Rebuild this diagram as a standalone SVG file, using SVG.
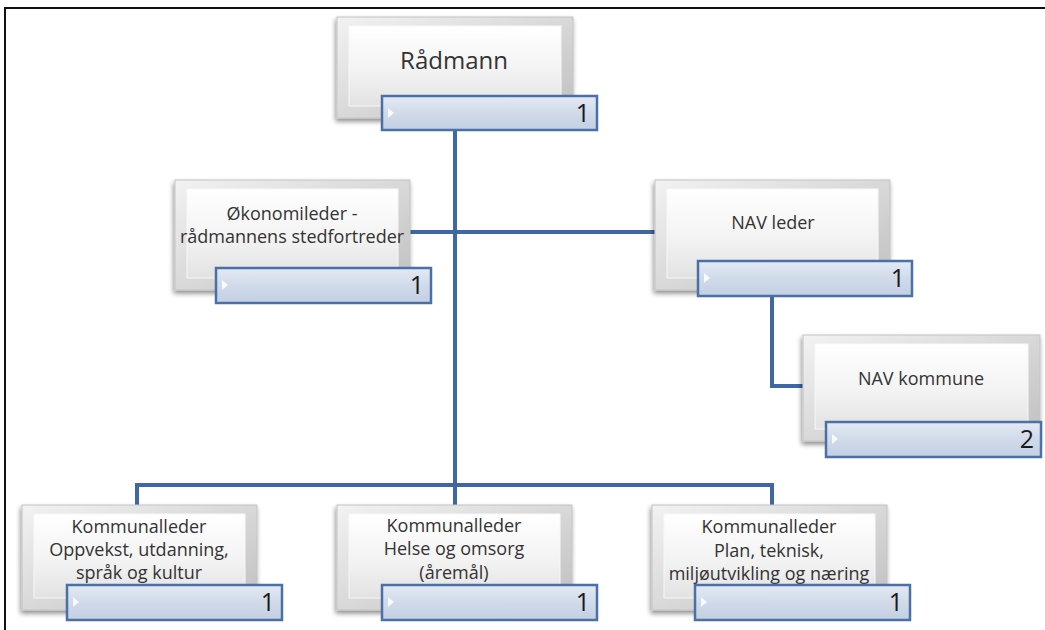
<svg xmlns="http://www.w3.org/2000/svg" width="1045" height="630" viewBox="0 0 1045 630">
<style>
.t{font-family:"Open Sans","Liberation Sans",sans-serif;fill:#333333;text-anchor:middle;font-size:18px}
.big{font-size:24px}
.n{font-family:"Open Sans","Liberation Sans",sans-serif;fill:#1a1a1a;text-anchor:end;font-size:25px}
.bar{fill:url(#barG);stroke:#4a70a6;stroke-width:2.5}
.outer{fill:url(#outG);stroke:#c4c4c4;stroke-width:1}
.inner{fill:url(#inG);stroke:#f7f7f7;stroke-width:1}
.conn{fill:none;stroke:#3d68a3;stroke-width:4}
.tri{fill:#ffffff;opacity:0.85}
</style>
<defs>
<linearGradient id="outG" x1="0" y1="0" x2="1" y2="1">
<stop offset="0" stop-color="#f2f2f2"/><stop offset="1" stop-color="#bfbfbf"/>
</linearGradient>
<linearGradient id="inG" x1="0" y1="0" x2="0" y2="1">
<stop offset="0" stop-color="#ffffff"/><stop offset="0.55" stop-color="#f3f3f3"/><stop offset="1" stop-color="#e2e2e2"/>
</linearGradient>
<linearGradient id="barG" x1="0" y1="0" x2="0" y2="1">
<stop offset="0" stop-color="#e4eaf4"/><stop offset="0.5" stop-color="#d0dae9"/><stop offset="1" stop-color="#c3cfe3"/>
</linearGradient>
<filter id="sh" x="-10%" y="-10%" width="125%" height="130%">
<feGaussianBlur in="SourceAlpha" stdDeviation="2.5"/>
<feOffset dx="-1" dy="3"/>
<feComponentTransfer><feFuncA type="linear" slope="0.45"/></feComponentTransfer>
<feMerge><feMergeNode/><feMergeNode in="SourceGraphic"/></feMerge>
</filter>
</defs>
<rect width="1045" height="630" fill="#ffffff"/>
<path d="M1045 8 H5 V630" fill="none" stroke="#111" stroke-width="2"/>

<g id="connectors">
<path class="conn" d="M455 130 V485"/>
<path class="conn" d="M410 232 H655"/>
<path class="conn" d="M772 296 V386 H803"/>
<path class="conn" d="M137 505 V485 H772 V505"/>
<path class="conn" d="M455 485 V505"/>
</g>

<g id="radmann">
<rect class="outer" x="337" y="17" width="236" height="101" filter="url(#sh)"/>
<rect class="inner" x="349" y="26" width="212" height="80"/>
<text class="t big" x="454" y="69">Rådmann</text>
<rect class="bar" x="382" y="96" width="215" height="34"/>
<path class="tri" d="M388 108 l6 5 l-6 5z"/>
<text class="n" x="590" y="122">1</text>
</g>

<g id="okonomileder">
<rect class="outer" x="175" y="180" width="235" height="110" filter="url(#sh)"/>
<rect class="inner" x="187" y="189" width="211" height="89"/>
<text class="t" x="292" y="220">Økonomileder -</text>
<text class="t" x="292" y="243">rådmannens stedfortreder</text>
<rect class="bar" x="216" y="268" width="215" height="35"/>
<path class="tri" d="M222 280 l6 5 l-6 5z"/>
<text class="n" x="424" y="294">1</text>
</g>

<g id="navleder">
<rect class="outer" x="655" y="180" width="235" height="110" filter="url(#sh)"/>
<rect class="inner" x="667" y="189" width="211" height="89"/>
<text class="t" x="773" y="229">NAV leder</text>
<rect class="bar" x="698" y="261" width="214" height="35"/>
<path class="tri" d="M704 273 l6 5 l-6 5z"/>
<text class="n" x="905" y="287">1</text>
</g>

<g id="navkommune">
<rect class="outer" x="803" y="335" width="237" height="106" filter="url(#sh)"/>
<rect class="inner" x="815" y="344" width="213" height="85"/>
<text class="t" x="921" y="385">NAV kommune</text>
<rect class="bar" x="826" y="422" width="215" height="35"/>
<path class="tri" d="M832 434 l6 5 l-6 5z"/>
<text class="n" x="1034" y="448">2</text>
</g>

<g id="kommunalleder1">
<rect class="outer" x="22" y="505" width="235" height="105" filter="url(#sh)"/>
<rect class="inner" x="34" y="514" width="211" height="84"/>
<text class="t" x="139" y="533">Kommunalleder</text>
<text class="t" x="139" y="556">Oppvekst, utdanning,</text>
<text class="t" x="139" y="579">språk og kultur</text>
<rect class="bar" x="67" y="585" width="215" height="35"/>
<path class="tri" d="M73 597 l6 5 l-6 5z"/>
<text class="n" x="275" y="611">1</text>
</g>

<g id="kommunalleder2">
<rect class="outer" x="337" y="505" width="235" height="105" filter="url(#sh)"/>
<rect class="inner" x="349" y="514" width="211" height="84"/>
<text class="t" x="454" y="532">Kommunalleder</text>
<text class="t" x="454" y="555">Helse og omsorg</text>
<text class="t" x="454" y="579">(åremål)</text>
<rect class="bar" x="382" y="585" width="215" height="35"/>
<path class="tri" d="M388 597 l6 5 l-6 5z"/>
<text class="n" x="590" y="611">1</text>
</g>

<g id="kommunalleder3">
<rect class="outer" x="652" y="505" width="235" height="105" filter="url(#sh)"/>
<rect class="inner" x="664" y="514" width="211" height="84"/>
<text class="t" x="769" y="533">Kommunalleder</text>
<text class="t" x="769" y="557">Plan, teknisk,</text>
<text class="t" x="769" y="580">miljøutvikling og næring</text>
<rect class="bar" x="695" y="585" width="215" height="35"/>
<path class="tri" d="M701 597 l6 5 l-6 5z"/>
<text class="n" x="903" y="611">1</text>
</g>
</svg>
